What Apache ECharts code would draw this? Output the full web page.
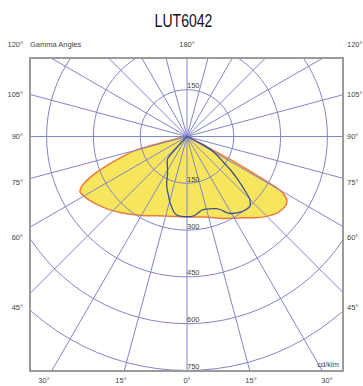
<!DOCTYPE html>
<html>
<head>
<meta charset="utf-8">
<script src="https://cdn.jsdelivr.net/npm/echarts@6/dist/echarts.min.js"></script>
<style>
  html, body { margin: 0; padding: 0; background: #fff; }
  #chart { width: 363px; height: 386px; }
</style>
</head>
<body>
<div id="chart"></div>
<script>
// C0-C180 plane (yellow), gamma in degrees, intensity in cd/klm
const c180Gamma = [0, 5, 10, 15, 20, 25, 30, 35, 40, 45, 50, 55, 60, 63, 65, 67.5, 70, 72.5, 75, 77, 80, 85, 90];
const c180Cd    = [258, 258, 260, 264, 270, 280, 292, 305, 320, 336, 352, 368, 382, 385, 370, 330, 275, 220, 166, 60, 15, 5, 0];
const c0Gamma   = [0, 5, 10, 15, 20, 25, 30, 35, 40, 45, 50, 55, 57.5, 60, 61, 62, 63, 65, 70, 80, 90];
const c0Cd      = [258, 259, 262, 268, 278, 290, 303, 318, 340, 362, 380, 386, 380, 345, 250, 150, 60, 20, 8, 3, 0];

// C90-C270 plane (blue line)
const c270Gamma = [0, 5, 7.5, 10, 12.5, 15, 17.5, 20, 22.5, 25, 27.5, 30, 35, 40, 42.5, 45, 50, 60, 90];
const c270Cd    = [257, 256, 254, 245, 230, 215, 198, 184, 170, 152, 135, 125, 110, 99, 40, 15, 8, 3, 0];
const c90Gamma  = [0, 5, 7.5, 10, 12.5, 15, 20, 22.5, 25, 27.5, 30, 35, 40, 42.5, 45, 47.5, 50, 52.5, 55, 57.5, 60, 62.5, 65, 70, 90];
const c90Cd     = [257, 255, 250, 243, 240, 241, 246, 250, 260, 275, 285, 296, 302, 300, 285, 245, 210, 175, 140, 118, 95, 70, 15, 5, 0];

// tick labels
const sideLabels = ['120°', '105°', '90°', '75°', '60°', '45°'];
const bottomLabels = ['30°', '15°', '0°', '15°', '30°'];

// layout (pixels)
const cx = 187, cy = 136.5;
const box = { x: 30, y: 58, w: 313, h: 313 };
const sideLabelY = [44, 94, 136, 182, 237, 307];
const bottomLabelX = [44, 121, 187, 251, 327];

const gridColor = '#8186c6';
const labelFont = '7.5px "Liberation Sans", Arial, sans-serif';
const labelColor = '#444';

// left half uses negative angles, right half positive
function plane(leftG, leftV, rightG, rightV) {
    const pts = [];
    for (let i = leftG.length - 1; i >= 0; i--) pts.push([leftV[i], -leftG[i]]);
    for (let i = 0; i < rightG.length; i++) pts.push([rightV[i], rightG[i]]);
    return pts;
}

const chart = echarts.init(document.getElementById('chart'), null, { renderer: 'svg' });

const graphics = [
    // white mask outside the frame
    { type: 'rect', z: 50, shape: { x: 0, y: 0, width: 363, height: box.y }, style: { fill: '#fff' } },
    { type: 'rect', z: 50, shape: { x: 0, y: box.y + box.h, width: 363, height: 40 }, style: { fill: '#fff' } },
    { type: 'rect', z: 50, shape: { x: 0, y: 0, width: box.x, height: 386 }, style: { fill: '#fff' } },
    { type: 'rect', z: 50, shape: { x: box.x + box.w, y: 0, width: 40, height: 386 }, style: { fill: '#fff' } },
    { type: 'rect', z: 51, shape: { x: box.x, y: box.y, width: box.w, height: box.h },
      style: { fill: 'none', stroke: '#9a9a9a', lineWidth: 2 } },
    { type: 'text', z: 60, x: 183.5, y: 20, scaleX: 0.76,
      style: { text: 'LUT6042', font: '18.5px "Liberation Sans", Arial, sans-serif', fill: '#111',
               textAlign: 'center', textVerticalAlign: 'middle' } },
    { type: 'text', z: 60, x: 30, y: 44,
      style: { text: 'Gamma Angles', font: labelFont, fill: labelColor, textAlign: 'left', textVerticalAlign: 'middle' } },
    { type: 'text', z: 60, x: cx, y: 44,
      style: { text: '180°', font: labelFont, fill: labelColor, textAlign: 'center', textVerticalAlign: 'middle' } },
    { type: 'text', z: 60, x: 339, y: 364,
      style: { text: 'cd/klm', font: labelFont, fill: labelColor, textAlign: 'right', textVerticalAlign: 'middle' } }
];
sideLabels.forEach((t, i) => {
    graphics.push({ type: 'text', z: 60, x: 23, y: sideLabelY[i],
        style: { text: t, font: labelFont, fill: labelColor, textAlign: 'right', textVerticalAlign: 'middle' } });
    graphics.push({ type: 'text', z: 60, x: 347, y: sideLabelY[i],
        style: { text: t, font: labelFont, fill: labelColor, textAlign: 'left', textVerticalAlign: 'middle' } });
});
bottomLabels.forEach((t, i) => {
    graphics.push({ type: 'text', z: 60, x: bottomLabelX[i], y: 380.5,
        style: { text: t, font: labelFont, fill: labelColor, textAlign: 'center', textVerticalAlign: 'middle' } });
});

const R = 234 / 750 * 1050;

const option = {
    animation: false,
    polar: [
        { center: [cx, cy], radius: R },
        { center: [cx, cy], radius: R }
    ],
    angleAxis: [
        {
            polarIndex: 0,
            type: 'value',
            min: -180,
            max: 180,
            interval: 15,
            startAngle: 90,
            clockwise: false,
            z: 3,
            axisLine: { show: false },
            axisTick: { show: false },
            axisLabel: { show: false },
            splitLine: { show: true, lineStyle: { color: gridColor, width: 1 } }
        },
        {
            polarIndex: 1,
            type: 'value',
            min: 0,
            max: 360,
            startAngle: 270,
            show: false
        }
    ],
    radiusAxis: [
        {
            polarIndex: 0,
            type: 'value',
            min: 0,
            max: 1050,
            interval: 150,
            z: 3,
            axisLine: { show: false },
            axisTick: { show: false },
            splitLine: { show: true, lineStyle: { color: gridColor, width: 1 } },
            axisLabel: {
                margin: 0,
                align: 'left',
                verticalAlign: 'bottom',
                fontSize: 7.5,
                fontFamily: 'Liberation Sans',
                color: labelColor,
                formatter: v => (v === 150 ? '150' : '')
            }
        },
        {
            polarIndex: 1,
            type: 'value',
            min: 0,
            max: 1050,
            interval: 150,
            z: 9,
            axisLine: { show: false },
            axisTick: { show: false },
            splitLine: { show: false },
            axisLabel: {
                margin: 0,
                align: 'left',
                verticalAlign: 'bottom',
                fontSize: 7.5,
                fontFamily: 'Liberation Sans',
                color: labelColor,
                formatter: v => (v > 0 && v <= 750 ? String(v) : '')
            }
        }
    ],
    graphic: graphics,
    series: [
        {
            name: 'C0-C180',
            type: 'line',
            coordinateSystem: 'polar',
            polarIndex: 0,
            z: 1,
            symbol: 'none',
            smooth: 0.2,
            data: plane(c180Gamma, c180Cd, c0Gamma, c0Cd),
            lineStyle: { color: '#f07a3c', width: 1.5 },
            areaStyle: { color: '#f8e55e', opacity: 1 }
        },
        {
            name: 'C90-C270',
            type: 'line',
            coordinateSystem: 'polar',
            polarIndex: 0,
            z: 5,
            symbol: 'none',
            smooth: 0.2,
            data: plane(c270Gamma, c270Cd, c90Gamma, c90Cd),
            lineStyle: { color: '#3d5192', width: 1.3 }
        }
    ]
};
chart.setOption(option);
</script>
</body>
</html>
